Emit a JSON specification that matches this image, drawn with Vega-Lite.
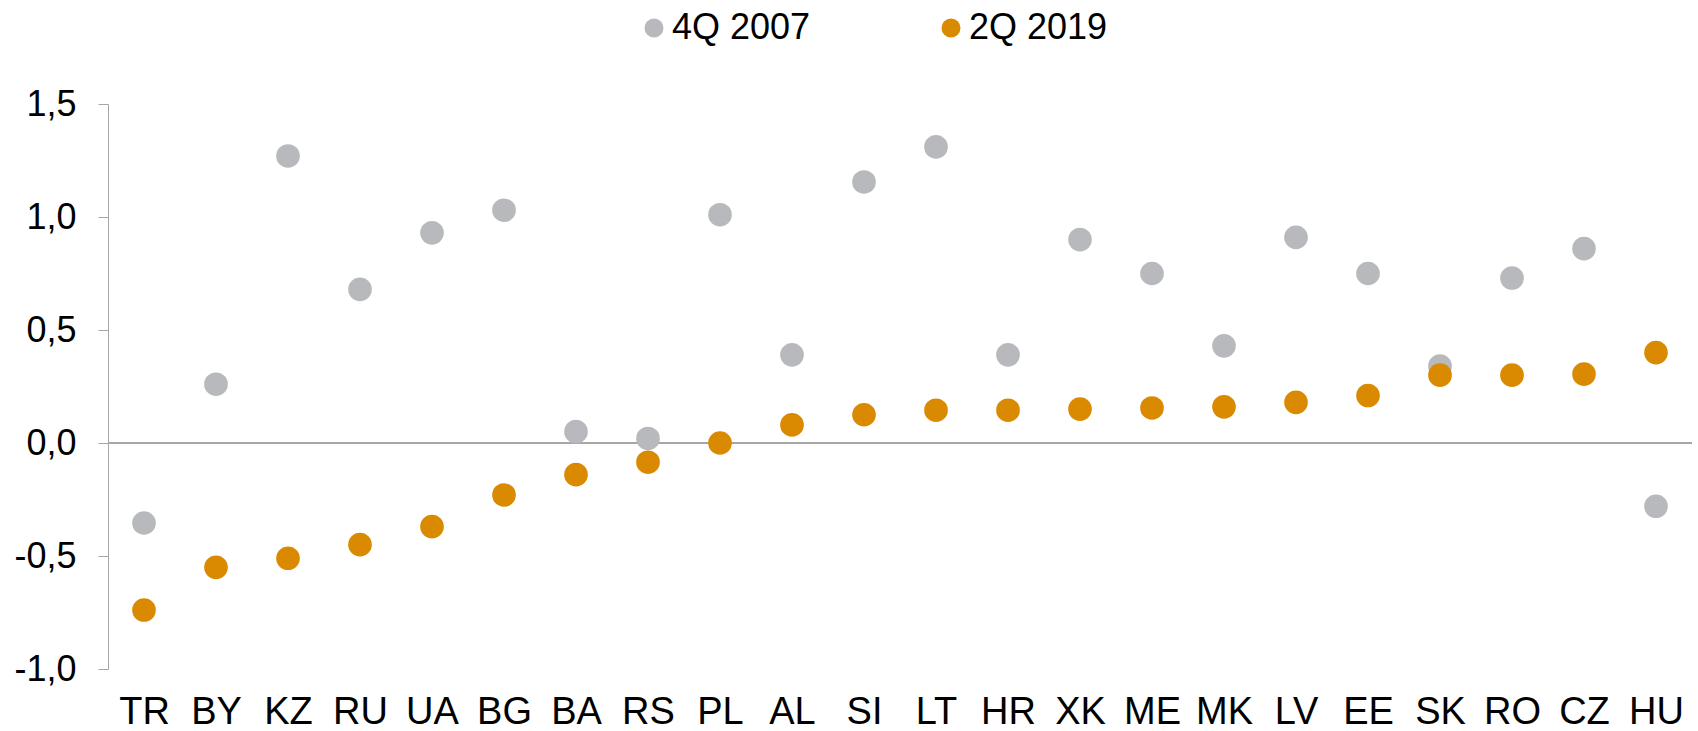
{
  "$schema": "https://vega.github.io/schema/vega-lite/v6.json",
  "autosize": "none",
  "width": 1584,
  "height": 565,
  "padding": {"left": 108, "top": 104, "right": 6, "bottom": 62},
  "background": "white",
  "config": {
    "view": {"stroke": null},
    "font": "Liberation Sans"
  },
  "data": {
    "values": [
      {"c": "TR", "s": "4Q 2007", "v": -0.354},
      {"c": "BY", "s": "4Q 2007", "v": 0.26},
      {"c": "KZ", "s": "4Q 2007", "v": 1.27},
      {"c": "RU", "s": "4Q 2007", "v": 0.68},
      {"c": "UA", "s": "4Q 2007", "v": 0.93},
      {"c": "BG", "s": "4Q 2007", "v": 1.03},
      {"c": "BA", "s": "4Q 2007", "v": 0.05},
      {"c": "RS", "s": "4Q 2007", "v": 0.02},
      {"c": "PL", "s": "4Q 2007", "v": 1.01},
      {"c": "AL", "s": "4Q 2007", "v": 0.39},
      {"c": "SI", "s": "4Q 2007", "v": 1.155},
      {"c": "LT", "s": "4Q 2007", "v": 1.31},
      {"c": "HR", "s": "4Q 2007", "v": 0.39},
      {"c": "XK", "s": "4Q 2007", "v": 0.9},
      {"c": "ME", "s": "4Q 2007", "v": 0.75},
      {"c": "MK", "s": "4Q 2007", "v": 0.43},
      {"c": "LV", "s": "4Q 2007", "v": 0.91},
      {"c": "EE", "s": "4Q 2007", "v": 0.75},
      {"c": "SK", "s": "4Q 2007", "v": 0.34},
      {"c": "RO", "s": "4Q 2007", "v": 0.73},
      {"c": "CZ", "s": "4Q 2007", "v": 0.86},
      {"c": "HU", "s": "4Q 2007", "v": -0.28},
      {"c": "TR", "s": "2Q 2019", "v": -0.739},
      {"c": "BY", "s": "2Q 2019", "v": -0.55},
      {"c": "KZ", "s": "2Q 2019", "v": -0.51},
      {"c": "RU", "s": "2Q 2019", "v": -0.45},
      {"c": "UA", "s": "2Q 2019", "v": -0.37},
      {"c": "BG", "s": "2Q 2019", "v": -0.23},
      {"c": "BA", "s": "2Q 2019", "v": -0.14},
      {"c": "RS", "s": "2Q 2019", "v": -0.085},
      {"c": "PL", "s": "2Q 2019", "v": 0.0},
      {"c": "AL", "s": "2Q 2019", "v": 0.08},
      {"c": "SI", "s": "2Q 2019", "v": 0.125},
      {"c": "LT", "s": "2Q 2019", "v": 0.145},
      {"c": "HR", "s": "2Q 2019", "v": 0.145},
      {"c": "XK", "s": "2Q 2019", "v": 0.15},
      {"c": "ME", "s": "2Q 2019", "v": 0.155},
      {"c": "MK", "s": "2Q 2019", "v": 0.16},
      {"c": "LV", "s": "2Q 2019", "v": 0.18},
      {"c": "EE", "s": "2Q 2019", "v": 0.21},
      {"c": "SK", "s": "2Q 2019", "v": 0.3},
      {"c": "RO", "s": "2Q 2019", "v": 0.3},
      {"c": "CZ", "s": "2Q 2019", "v": 0.305},
      {"c": "HU", "s": "2Q 2019", "v": 0.4}
    ]
  },
  "layer": [
    {
      "mark": {"type": "rule", "color": "#a6a6a6", "strokeWidth": 1},
      "encoding": {
        "y": {"datum": 0, "type": "quantitative", "scale": {"domain": [-1, 1.5], "nice": false, "zero": false}}
      }
    },
    {
      "mark": {"type": "circle", "opacity": 1, "size": 560},
      "encoding": {
        "x": {
          "field": "c",
          "type": "nominal",
          "sort": null,
          "scale": {"paddingInner": 0, "paddingOuter": 0},
          "axis": {
            "title": null,
            "domain": false,
            "ticks": false,
            "labelAngle": 0,
            "labelFontSize": 38,
            "labelColor": "#000000",
            "labelPadding": 24
          }
        },
        "y": {
          "field": "v",
          "type": "quantitative",
          "scale": {"domain": [-1, 1.5], "nice": false, "zero": false},
          "axis": {
            "title": null,
            "values": [-1, -0.5, 0, 0.5, 1, 1.5],
            "labelExpr": "replace(replace(format(datum.value, '.1f'), '.', ','), '\u2212', '-')",
            "grid": false,
            "domainColor": "#a6a6a6",
            "tickColor": "#a6a6a6",
            "tickSize": 10,
            "labelFontSize": 36,
            "labelColor": "#000000",
            "labelPadding": 22
          }
        },
        "color": {
          "field": "s",
          "type": "nominal",
          "sort": ["4Q 2007", "2Q 2019"],
          "scale": {"domain": ["4Q 2007", "2Q 2019"], "range": ["#b8b9bd", "#d98a00"]},
          "legend": {
            "title": null,
            "orient": "none",
            "legendX": 528,
            "legendY": -94,
            "direction": "horizontal",
            "columns": 2,
            "symbolType": "circle",
            "symbolSize": 360,
            "symbolStrokeWidth": 0,
            "labelFontSize": 36,
            "labelColor": "#000000",
            "labelOffset": 0,
            "columnPadding": 122,
            "padding": 0,
            "labelLimit": 400
          }
        }
      }
    }
  ]
}
